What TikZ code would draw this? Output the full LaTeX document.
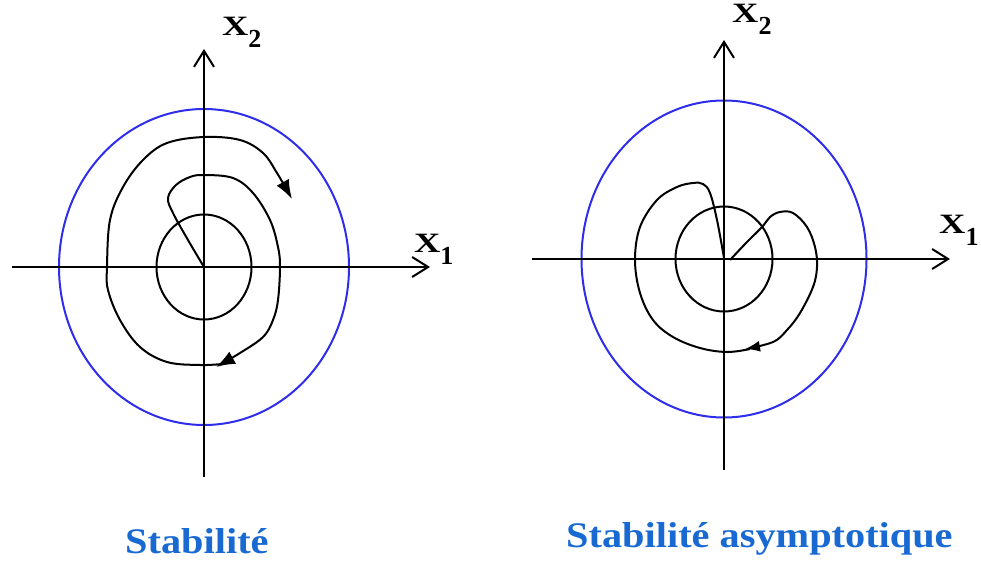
\documentclass[tikz,border=0pt]{standalone}
\usepackage{fontspec}
\setmainfont{Liberation Serif}
\usetikzlibrary{arrows.meta}
\definecolor{ringblue}{RGB}{45,45,235}
\definecolor{titleblue}{RGB}{25,105,210}
\newcommand{\xlab}[1]{\scalebox{1.3}[1]{X}\raisebox{-12pt}{\fontsize{26}{26}\selectfont #1}}
\newcommand{\ttltext}[1]{\scalebox{1.12}[1]{#1}}

\begin{document}
\begin{tikzpicture}[x=1pt, y=-1pt,
    axis/.style={line width=2pt, -{Straight Barb[length=16pt, width=20pt, line width=2pt]}},
    ring/.style={ringblue, line width=2pt},
    orbit/.style={line width=2pt, smooth, tension=0.6},
    lbl/.style={anchor=base west, inner sep=0pt, font=\fontsize{28}{28}\selectfont\bfseries},
    ttl/.style={anchor=base west, inner sep=0pt, text=titleblue, font=\fontsize{36}{36}\selectfont\bfseries}]
        \useasboundingbox (0,0) rectangle (981,562);

        % stable
        \coordinate (o1) at (204,267);
        \coordinate (w1) at (12,267);
        \coordinate (e1) at (430,267);
        \coordinate (s1) at (204,477);
        \coordinate (n1) at (204,49);
        \draw[ring] (o1) ellipse [x radius=145pt, y radius=158pt];
        \draw[line width=2pt] (o1) ellipse [x radius=47.5pt, y radius=52.5pt];
        \draw[axis] (w1) -- (e1);
        \draw[axis] (s1) -- (n1);
        \draw[orbit, -{Latex[length=19pt, width=14pt]}] plot coordinates {(204,267) (188,240) (173,213) (168,198) (176,185) (190,177) (204,175) (233,178) (253,193) (270,220) (278,247) (280,267) (278,300) (273,320) (263,337) (240,353) (216,367)};
        \draw[orbit, -{Latex[length=19pt, width=14pt]}] plot coordinates {(222,364) (200,365) (167,362) (140,347) (120,320) (108,290) (107,267) (110,220) (123,187) (143,160) (167,143) (204,137) (240,140) (263,153) (277,173) (292,199)};
        \node[lbl] (x2a) at (222,35) {\xlab{2}};
        \node[lbl] (x1a) at (414,252) {\xlab{1}};
        \node[ttl] (stab) at (125,553) {\ttltext{Stabilité}};

        % asymptotically stable
        \coordinate (o2) at (724,259);
        \coordinate (w2) at (532,259);
        \coordinate (e2) at (950,259);
        \coordinate (s2) at (724,470);
        \coordinate (n2) at (724,40);
        \draw[ring] (o2) ellipse [x radius=142.5pt, y radius=158.5pt];
        \draw[line width=2pt] (o2) ellipse [x radius=48.5pt, y radius=52.5pt];
        \draw[axis] (w2) -- (e2);
        \draw[axis] (s2) -- (n2);
        \draw[orbit, -{Latex[length=15pt, width=11pt]}] plot coordinates {(730,260) (746,243) (762,227) (770,217) (780,212) (793,213) (807,227) (815,247) (817,267) (813,287) (800,313) (787,330) (773,342) (745,349)};
        \draw[orbit] plot coordinates {(750,349) (727,352) (700,348) (673,337) (653,320) (640,293) (635,260) (640,227) (657,200) (677,187) (693,183) (703,184) (710,193) (717,220) (724,258)};
        \node[lbl] (x2b) at (732,22) {\xlab{2}};
        \node[lbl] (x1b) at (939,233) {\xlab{1}};
        \node[ttl] (asym) at (566,547) {\ttltext{Stabilité asymptotique}};
    \end{tikzpicture}
\end{document}
